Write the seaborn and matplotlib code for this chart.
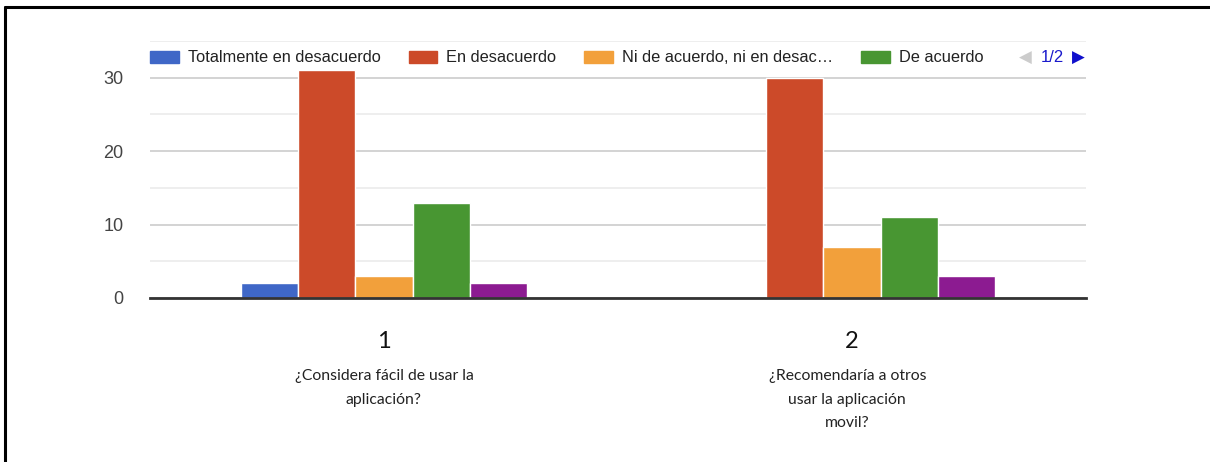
import pandas as pd
import matplotlib
matplotlib.use("Agg")
import matplotlib.pyplot as plt
import matplotlib.patches as mpatches
import matplotlib.lines as mlines
import seaborn as sns

# Datos de la encuesta
preguntas = ["1", "2"]
textos_preguntas = ["¿Considera fácil de usar la\naplicación?",
                    "¿Recomendaría a otros\nusar la aplicación\nmovil?"]
respuestas = ["Totalmente en desacuerdo", "En desacuerdo",
              "Ni de acuerdo, ni en desacuerdo", "De acuerdo",
              "Totalmente de acuerdo"]
valores_p1 = [2, 31, 3, 13, 2]
valores_p2 = [0, 30, 7, 11, 3]
etiquetas_leyenda = ["Totalmente en desacuerdo", "En desacuerdo",
                     "Ni de acuerdo, ni en desac…", "De acuerdo"]
colores = ["#3f67c7", "#cc4a29", "#f2a03b", "#489632", "#8c1b91"]

df = pd.DataFrame({
    "pregunta": [preguntas[0]] * 5 + [preguntas[1]] * 5,
    "respuesta": respuestas * 2,
    "valor": valores_p1 + valores_p2,
})

sns.set_style("white")
plt.rcParams['font.family'] = ['Liberation Sans', 'DejaVu Sans']

fig = plt.figure(figsize=(12.1, 4.62), dpi=100)
ax = fig.add_axes([150 / 1210, 1 - 298 / 462, 936 / 1210, 257 / 462])

sns.barplot(data=df, x="pregunta", y="valor", hue="respuesta",
            hue_order=respuestas, palette=colores, saturation=1, width=0.61,
            edgecolor="white", linewidth=1, legend=False, ax=ax, zorder=3)

ax.set_xlim(-0.5, 1.5)
ax.set_ylim(0, 35)
ax.set_yticks([0, 10, 20, 30])
ax.set_yticks([5, 15, 25, 35], minor=True)
ax.grid(axis="y", which="major", color="#cccccc", linewidth=1.2, zorder=0)
ax.grid(axis="y", which="minor", color="#ebebeb", linewidth=1.2, zorder=0)
ax.tick_params(axis="y", which="both", length=0, labelsize=13,
               labelcolor="#444444", pad=19)
for s in ["top", "right", "left"]:
    ax.spines[s].set_visible(False)
ax.spines["bottom"].set_color("#333333")
ax.spines["bottom"].set_linewidth(2)
ax.spines["bottom"].set_zorder(4)
ax.set_xlabel("")
ax.set_ylabel("")

ax.set_xticks([0, 1])
ax.set_xticklabels(preguntas, fontsize=17, family="Lato", color="#111111")
ax.tick_params(axis="x", length=0, pad=24)
for i, txt in enumerate(textos_preguntas):
    ax.text(i - 0.01 * i, -0.275, txt, transform=ax.get_xaxis_transform(),
            ha="center", va="top", fontsize=11.3, family="Lato",
            color="#222222", linespacing=1.9)

# Leyenda (página 1/2)
handles = [mpatches.Patch(color=c) for c in colores[:4]]
leg = ax.legend(handles, etiquetas_leyenda, ncol=4, loc="center left",
                bbox_to_anchor=(-3 / 936, 1 - 17 / 257), frameon=True,
                fontsize=11.8, handlelength=1.75, handleheight=0.8,
                handletextpad=0.55, columnspacing=1.7, borderpad=0.2,
                borderaxespad=0, facecolor="white", edgecolor="white",
                framealpha=1)
for t in leg.get_texts():
    t.set_color("#222222")
leg.set_zorder(5)

ly = 1 - 58 / 462
fig.text(1025 / 1210, ly, "◀", color="#cccccc", fontsize=12,
         ha="center", va="center", family="DejaVu Sans")
fig.text(1052 / 1210, ly, "1/2", color="#1a1acc", fontsize=12,
         ha="center", va="center")
fig.text(1078 / 1210, ly, "▶", color="#1010cc", fontsize=12,
         ha="center", va="center", family="DejaVu Sans")

# Marco exterior
for xs, ys in [([5, 5], [7, 462]), ([5, 1210], [7, 7])]:
    fig.add_artist(mlines.Line2D([x / 1210 for x in xs],
                                 [1 - y / 462 for y in ys],
                                 color="black", linewidth=2.2))

fig.savefig("out.png", dpi=100)
